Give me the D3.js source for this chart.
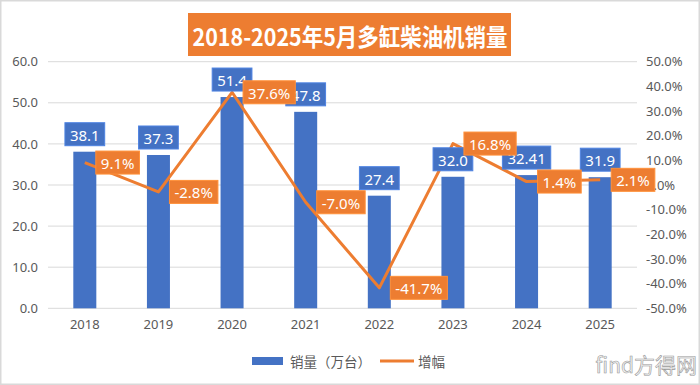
<!DOCTYPE html>
<html><head><meta charset="utf-8">
<script src="https://cdn.jsdelivr.net/npm/d3@7"></script>
<style>body{margin:0;background:#fff}svg{display:block}</style>
</head><body>
<svg id="c" width="700" height="385"></svg>
<script>
const title = "2018-2025年5月多缸柴油机销量";
const years = ["2018","2019","2020","2021","2022","2023","2024","2025"];
const sales = [38.1, 37.3, 51.4, 47.8, 27.4, 32.0, 32.41, 31.9];
const salesLabels = ["38.1","37.3","51.4","47.8","27.4","32.0","32.41","31.9"];
const growth = [9.1, -2.8, 37.6, -7.0, -41.7, 16.8, 1.4, 2.1];
const leftTicks = [0,10,20,30,40,50,60];
const rightTicks = [-50,-40,-30,-20,-10,0,10,20,30,40,50];
const legendNames = ["销量（万台）","增幅"];

const BLUE = "#4472C4", ORANGE = "#ED7D31", GREY = "#595959";
const svg = d3.select("#c");
const font = "'Noto Sans','Noto Sans CJK SC',sans-serif";

// border
svg.append("rect").attr("x",0.75).attr("y",0.75).attr("width",698.5).attr("height",383.5)
  .attr("fill","#fff").attr("stroke","#d9d9d9").attr("stroke-width",1.5);

const L = 48, R = 637, T = 61.7, B = 308.3;
const x = d3.scaleBand().domain(years).range([L,R]).paddingInner(0.6875).paddingOuter(0.34375);
const yL = d3.scaleLinear().domain([0,60]).range([B,T]);
const yR = d3.scaleLinear().domain([-50,50]).range([B,T]);
const cx = d => x(d) + x.bandwidth()/2;

// gridlines
svg.append("g").selectAll("line").data(leftTicks).join("line")
  .attr("x1",L).attr("x2",R).attr("y1",d=>yL(d)).attr("y2",d=>yL(d))
  .attr("stroke","#d9d9d9").attr("stroke-width",1);

// left axis
const axL = svg.append("g").attr("transform",`translate(${L},0)`)
  .call(d3.axisLeft(yL).tickValues(leftTicks).tickFormat(d3.format(".1f")).tickSize(0).tickPadding(10));
axL.select(".domain").remove();
axL.selectAll("text").attr("fill",GREY).style("font-family",font).style("font-size","13px");

// right axis
const axR = svg.append("g").attr("transform",`translate(${R},0)`)
  .call(d3.axisRight(yR).tickValues(rightTicks).tickFormat(d=>d.toFixed(1)+"%").tickSize(0).tickPadding(9));
axR.select(".domain").remove();
axR.selectAll("text").attr("fill",GREY).style("font-family",font).style("font-size","13px");

// bottom axis
const axB = svg.append("g").attr("transform",`translate(0,${B})`)
  .call(d3.axisBottom(x).tickSize(0).tickPadding(11));
axB.select(".domain").remove();
axB.selectAll("text").attr("fill",GREY).style("font-family",font).style("font-size","13px");

// bars
svg.append("g").selectAll("rect").data(years).join("rect")
  .attr("x",d=>x(d)).attr("width",x.bandwidth())
  .attr("y",(d,i)=>yL(sales[i])).attr("height",(d,i)=>B-yL(sales[i]))
  .attr("fill",BLUE);

// line
const line = d3.line().x((d,i)=>cx(years[i])).y(d=>yR(d));
svg.append("path").datum(growth).attr("d",line).attr("fill","none")
  .attr("stroke",ORANGE).attr("stroke-width",3).attr("stroke-linejoin","round");

// label helper
function boxLabel(g, text, cxp, cyp, anchor, fill){
  const t = g.append("text").text(text).attr("fill","#fff")
    .style("font-family",font).style("font-size","15px")
    .attr("dominant-baseline","central");
  const w = t.node().getComputedTextLength();
  const bw = w + 10, bh = 23;
  let bx = anchor === "middle" ? cxp - bw/2 : cxp;
  const by = cyp - bh/2;
  g.insert("rect","text:last-child").attr("x",bx).attr("y",by).attr("width",bw).attr("height",bh)
    .attr("fill",fill).attr("stroke",d3.color(fill).brighter(0.4)).attr("stroke-width",1);
  t.attr("x",bx+5).attr("y",cyp+0.5);
}
const gB = svg.append("g");
years.forEach((y,i)=>{
  const g = gB.append("g");
  boxLabel(g, salesLabels[i], cx(y), yL(sales[i]) - 6 - 11.5, "middle", BLUE);
});
const gO = svg.append("g");
years.forEach((y,i)=>{
  const g = gO.append("g");
  boxLabel(g, growth[i].toFixed(1)+"%", cx(y)+11, yR(growth[i]), "start", ORANGE);
});

// title
const tg = svg.append("g");
const tt = tg.append("text").text(title).attr("x",350).attr("y",35).attr("text-anchor","middle")
  .attr("dominant-baseline","central").attr("fill","#fff")
  .style("font-family","'Noto Sans CJK SC',sans-serif").style("font-weight","bold").style("font-size","24px");
const tw = tt.node().getComputedTextLength();
tg.insert("rect","text").attr("x",188).attr("y",13).attr("width",323).attr("height",43).attr("fill",ORANGE);
if (Math.abs(tw-315) > 4) tt.attr("textLength",315).attr("lengthAdjust","spacingAndGlyphs");

// legend
const lg = svg.append("g");
lg.append("rect").attr("x",252).attr("y",357).attr("width",31).attr("height",8).attr("fill",BLUE);
lg.append("text").text(legendNames[0]).attr("x",290).attr("y",361).attr("dominant-baseline","central")
  .attr("fill",GREY).style("font-family","'Noto Sans CJK SC',sans-serif").style("font-size","13.5px");
lg.append("line").attr("x1",380).attr("x2",414).attr("y1",361).attr("y2",361)
  .attr("stroke",ORANGE).attr("stroke-width",3);
lg.append("text").text(legendNames[1]).attr("x",418).attr("y",361).attr("dominant-baseline","central")
  .attr("fill",GREY).style("font-family","'Noto Sans CJK SC',sans-serif").style("font-size","13.5px");

// watermark
svg.append("text").text("find方得网").attr("x",697).attr("y",373).attr("text-anchor","end")
  .attr("fill","#f2f2f2").attr("stroke","#9a9a9a").attr("stroke-width",0.6)
  .style("font-family","'Noto Sans CJK SC',sans-serif").style("font-size","21px");
</script>
</body></html>
